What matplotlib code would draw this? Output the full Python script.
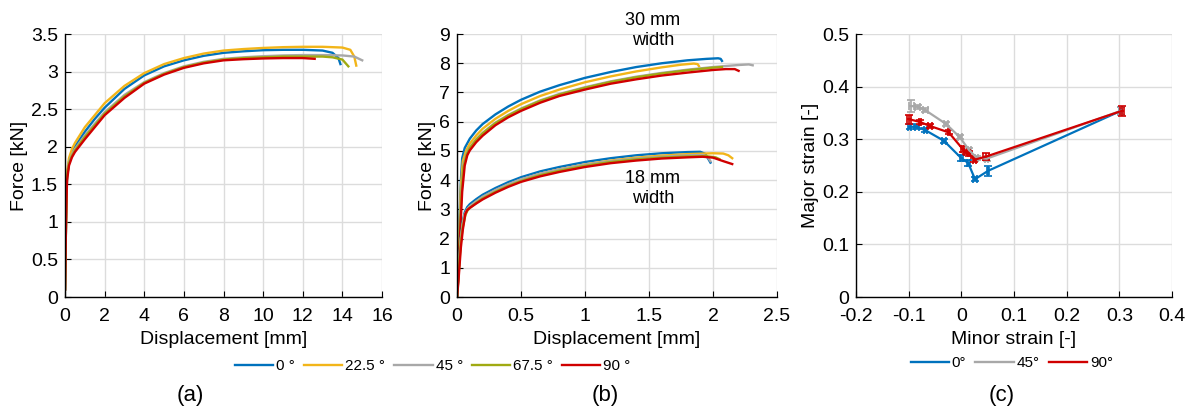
import matplotlib
matplotlib.use("Agg")
import matplotlib.pyplot as plt
from matplotlib.lines import Line2D

plt.rcParams['font.family'] = ['Liberation Sans', 'DejaVu Sans']

# ---------------- data ----------------
angles_ab = ["0 °", "22.5 °", "45 °", "67.5 °", "90 °"]
colors_ab = ["#0072BD", "#F2B519", "#A8A8A8", "#A0AA12", "#D00000"]

# (a) force-displacement
a_x0 = [0, 0.05, 0.1, 0.2, 0.35, 0.5, 1, 1.5, 2, 3, 4, 5, 6, 7, 8, 9, 10, 11, 12, 13, 13.5, 13.8, 13.9]
a_y0 = [0.1, 1.0, 1.6, 1.8, 1.92, 2.0, 2.2, 2.37, 2.52, 2.77, 2.95, 3.07, 3.15, 3.21, 3.25, 3.27, 3.285, 3.29, 3.29, 3.28, 3.25, 3.18, 3.1]
a_x225 = [0, 0.05, 0.1, 0.2, 0.35, 0.5, 1, 2, 3, 4, 5, 6, 7, 8, 9, 10, 11, 12, 13, 14, 14.4, 14.6, 14.7]
a_y225 = [0.1, 1.0, 1.65, 1.85, 1.97, 2.05, 2.26, 2.58, 2.81, 2.98, 3.1, 3.18, 3.24, 3.28, 3.3, 3.315, 3.325, 3.33, 3.33, 3.32, 3.29, 3.2, 3.08]
a_x45 = [0, 0.05, 0.1, 0.2, 0.35, 0.5, 1, 2, 3, 4, 5, 6, 7, 8, 9, 10, 11, 12, 13, 14, 14.6, 15.0]
a_y45 = [0.1, 1.0, 1.6, 1.8, 1.9, 1.97, 2.15, 2.46, 2.69, 2.86, 2.98, 3.07, 3.13, 3.17, 3.19, 3.205, 3.215, 3.22, 3.22, 3.215, 3.2, 3.15]
a_x675 = [0, 0.05, 0.1, 0.2, 0.35, 0.5, 1, 2, 3, 4, 5, 6, 7, 8, 9, 10, 11, 12, 13, 13.5, 14.0, 14.3]
a_y675 = [0.1, 1.0, 1.6, 1.78, 1.88, 1.95, 2.13, 2.44, 2.67, 2.85, 2.97, 3.06, 3.12, 3.16, 3.18, 3.19, 3.2, 3.2, 3.2, 3.19, 3.16, 3.07]
a_x90 = [0, 0.05, 0.1, 0.2, 0.35, 0.5, 1, 2, 3, 4, 5, 6, 7, 8, 9, 10, 11, 12, 12.6]
a_y90 = [0.1, 1.0, 1.55, 1.75, 1.86, 1.93, 2.1, 2.42, 2.65, 2.84, 2.96, 3.05, 3.11, 3.15, 3.165, 3.175, 3.18, 3.18, 3.17]

# (b) force-displacement, 30 mm width
b30_x0 = [0, 0.01, 0.02, 0.03, 0.04, 0.06, 0.1, 0.15, 0.2, 0.3, 0.4, 0.5, 0.65, 0.8, 1.0, 1.2, 1.4, 1.6, 1.8, 1.95, 2.04, 2.06, 2.07]
b30_y0 = [0, 1.3, 2.8, 4.0, 4.75, 5.1, 5.42, 5.7, 5.92, 6.25, 6.52, 6.75, 7.03, 7.25, 7.5, 7.7, 7.87, 8.0, 8.1, 8.15, 8.17, 8.15, 8.08]
b30_x225 = [0, 0.01, 0.02, 0.03, 0.045, 0.07, 0.1, 0.15, 0.2, 0.3, 0.4, 0.5, 0.65, 0.8, 1.0, 1.2, 1.4, 1.6, 1.75, 1.85, 1.88, 1.89]
b30_y225 = [0, 1.1, 2.5, 3.8, 4.65, 5.0, 5.25, 5.53, 5.76, 6.1, 6.37, 6.6, 6.88, 7.1, 7.35, 7.55, 7.72, 7.86, 7.95, 7.99, 7.97, 7.9]
b30_x45 = [0, 0.01, 0.02, 0.035, 0.05, 0.075, 0.1, 0.15, 0.2, 0.3, 0.4, 0.5, 0.65, 0.8, 1.0, 1.2, 1.4, 1.6, 1.8, 2.0, 2.2, 2.28, 2.31]
b30_y45 = [0, 1.0, 2.3, 3.8, 4.55, 4.92, 5.12, 5.4, 5.62, 5.97, 6.23, 6.45, 6.73, 6.95, 7.18, 7.38, 7.54, 7.67, 7.78, 7.87, 7.94, 7.96, 7.93]
b30_x675 = [0, 0.01, 0.02, 0.035, 0.05, 0.075, 0.1, 0.15, 0.2, 0.3, 0.4, 0.5, 0.65, 0.8, 1.0, 1.2, 1.4, 1.6, 1.8, 2.0, 2.07]
b30_y675 = [0, 0.9, 2.1, 3.6, 4.45, 4.88, 5.1, 5.38, 5.6, 5.95, 6.21, 6.43, 6.71, 6.93, 7.16, 7.36, 7.52, 7.65, 7.76, 7.85, 7.87]
b30_x90 = [0, 0.01, 0.02, 0.04, 0.06, 0.08, 0.1, 0.15, 0.2, 0.3, 0.4, 0.5, 0.65, 0.8, 1.0, 1.2, 1.4, 1.6, 1.8, 2.0, 2.1, 2.17, 2.2]
b30_y90 = [0, 0.8, 1.8, 3.6, 4.5, 4.85, 5.02, 5.3, 5.52, 5.88, 6.15, 6.37, 6.65, 6.88, 7.1, 7.3, 7.45, 7.58, 7.68, 7.77, 7.8, 7.8, 7.74]

# (b) force-displacement, 18 mm width
b18_x0 = [0, 0.01, 0.02, 0.03, 0.045, 0.06, 0.08, 0.1, 0.15, 0.2, 0.3, 0.4, 0.5, 0.65, 0.8, 1.0, 1.2, 1.4, 1.6, 1.8, 1.9, 1.94, 1.96, 1.98]
b18_y0 = [0, 0.8, 1.5, 2.1, 2.6, 2.9, 3.08, 3.18, 3.35, 3.5, 3.73, 3.93, 4.1, 4.3, 4.45, 4.62, 4.75, 4.85, 4.92, 4.96, 4.97, 4.9, 4.75, 4.6]
b18_x225 = [0, 0.01, 0.02, 0.03, 0.045, 0.06, 0.08, 0.1, 0.15, 0.2, 0.3, 0.4, 0.5, 0.65, 0.8, 1.0, 1.2, 1.4, 1.6, 1.8, 2.0, 2.08, 2.12, 2.15]
b18_y225 = [0, 0.7, 1.4, 2.0, 2.5, 2.82, 3.0, 3.1, 3.27, 3.42, 3.65, 3.85, 4.02, 4.22, 4.37, 4.54, 4.67, 4.77, 4.84, 4.89, 4.92, 4.91, 4.85, 4.75]
b18_x45 = [0, 0.01, 0.02, 0.03, 0.045, 0.06, 0.08, 0.1, 0.15, 0.2, 0.3, 0.4, 0.5, 0.65, 0.8, 1.0, 1.2, 1.4, 1.6, 1.8, 1.92, 1.96, 1.98]
b18_y45 = [0, 0.7, 1.4, 2.0, 2.5, 2.82, 3.0, 3.1, 3.27, 3.43, 3.66, 3.86, 4.03, 4.22, 4.37, 4.53, 4.65, 4.74, 4.8, 4.85, 4.86, 4.78, 4.65]
b18_x675 = [0, 0.01, 0.02, 0.03, 0.045, 0.065, 0.08, 0.1, 0.15, 0.2, 0.3, 0.4, 0.5, 0.65, 0.8, 1.0, 1.2, 1.4, 1.6, 1.8, 1.95, 2.02, 2.05]
b18_y675 = [0, 0.6, 1.3, 1.9, 2.4, 2.8, 2.95, 3.05, 3.22, 3.37, 3.6, 3.8, 3.97, 4.17, 4.32, 4.49, 4.62, 4.71, 4.77, 4.81, 4.82, 4.78, 4.72]
b18_x90 = [0, 0.01, 0.02, 0.03, 0.045, 0.065, 0.08, 0.1, 0.15, 0.2, 0.3, 0.4, 0.5, 0.65, 0.8, 1.0, 1.2, 1.4, 1.6, 1.8, 1.92, 2.0, 2.08, 2.15]
b18_y90 = [0, 0.5, 1.1, 1.7, 2.3, 2.85, 2.98, 3.05, 3.2, 3.34, 3.57, 3.77, 3.94, 4.13, 4.28, 4.45, 4.58, 4.67, 4.74, 4.78, 4.8, 4.77, 4.65, 4.55]

# (c) forming limit points
angles_c = ["0°", "45°", "90°"]
colors_c = ["#0072BD", "#A8A8A8", "#D00000"]
c_minor0 = [-0.098, -0.084, -0.068, -0.033, 0.0, 0.013, 0.026, 0.051, 0.303]
c_major0 = [0.324, 0.323, 0.317, 0.297, 0.264, 0.255, 0.224, 0.240, 0.354]
c_xerr0 = [0.003, 0.003, 0.003, 0.003, 0.003, 0.003, 0.004, 0.002, 0.003]
c_yerr0 = [0.004, 0.004, 0.004, 0.004, 0.006, 0.006, 0.004, 0.009, 0.008]
c_minor45 = [-0.095, -0.083, -0.068, -0.029, -0.003, 0.015, 0.029, 0.048, 0.303]
c_major45 = [0.363, 0.362, 0.355, 0.329, 0.304, 0.279, 0.265, 0.263, 0.354]
c_xerr45 = [0.005, 0.004, 0.004, 0.004, 0.004, 0.003, 0.003, 0.003, 0.003]
c_yerr45 = [0.012, 0.004, 0.004, 0.004, 0.004, 0.004, 0.004, 0.004, 0.008]
c_minor90 = [-0.099, -0.079, -0.059, -0.024, 0.003, 0.008, 0.015, 0.025, 0.047, 0.305]
c_major90 = [0.338, 0.333, 0.325, 0.313, 0.281, 0.276, 0.273, 0.261, 0.267, 0.354]
c_xerr90 = [0.004, 0.002, 0.004, 0.002, 0.003, 0.003, 0.002, 0.002, 0.005, 0.004]
c_yerr90 = [0.009, 0.004, 0.004, 0.004, 0.006, 0.004, 0.004, 0.004, 0.006, 0.010]

# ---------------- figure ----------------
fig = plt.figure(figsize=(11.89, 4.09), dpi=100)

TICK_FS = 14
LABEL_FS = 14

def style(ax):
    ax.spines['top'].set_visible(False)
    ax.spines['right'].set_visible(False)
    ax.spines['left'].set_linewidth(1.0)
    ax.spines['bottom'].set_linewidth(1.0)
    ax.grid(True, color='#DCDCDC', linewidth=1.0)
    ax.set_axisbelow(True)
    ax.tick_params(direction='in', length=4, labelsize=TICK_FS, width=0.8)
    ax.tick_params(axis='x', pad=8)
    ax.tick_params(axis='y', pad=5)

lw = 1.7

# (a)
axa = fig.add_axes([0.0547, 0.2738, 0.2666, 0.6430])
style(axa)
a_series = [(a_x0, a_y0), (a_x225, a_y225), (a_x45, a_y45), (a_x675, a_y675), (a_x90, a_y90)]
for (xs, ys), c in zip(a_series, colors_ab):
    axa.plot(xs, ys, color=c, lw=lw, solid_joinstyle='round')
axa.set_xlim(0, 16)
axa.set_ylim(0, 3.5)
axa.set_xticks(range(0, 17, 2))
axa.set_yticks([0, 0.5, 1, 1.5, 2, 2.5, 3, 3.5])
axa.set_yticklabels(['0', '0.5', '1', '1.5', '2', '2.5', '3', '3.5'])
axa.set_xlabel('Displacement [mm]', fontsize=LABEL_FS, labelpad=4)
axa.set_ylabel('Force [kN]', fontsize=LABEL_FS, labelpad=2)

# (b)
axb = fig.add_axes([0.3844, 0.2738, 0.2691, 0.6430])
style(axb)
b30 = [(b30_x0, b30_y0), (b30_x225, b30_y225), (b30_x45, b30_y45), (b30_x675, b30_y675), (b30_x90, b30_y90)]
b18 = [(b18_x0, b18_y0), (b18_x225, b18_y225), (b18_x45, b18_y45), (b18_x675, b18_y675), (b18_x90, b18_y90)]
for grp in (b30, b18):
    for (xs, ys), c in zip(grp, colors_ab):
        axb.plot(xs, ys, color=c, lw=lw, solid_joinstyle='round')
axb.set_xlim(0, 2.5)
axb.set_ylim(0, 9)
axb.set_xticks([0, 0.5, 1, 1.5, 2, 2.5])
axb.set_xticklabels(['0', '0.5', '1', '1.5', '2', '2.5'])
axb.set_yticks(range(0, 10))
axb.set_xlabel('Displacement [mm]', fontsize=LABEL_FS, labelpad=4)
axb.set_ylabel('Force [kN]', fontsize=LABEL_FS, labelpad=2)
axb.text(1.53, 9.12, '30 mm\nwidth', ha='center', va='center', fontsize=13,
         linespacing=1.2, clip_on=False)
axb.text(1.53, 3.71, '18 mm\nwidth', ha='center', va='center', fontsize=13,
         linespacing=1.2)

handles = [Line2D([], [], color=c, lw=lw) for c in colors_ab]
fig.legend(handles, angles_ab, loc='center', bbox_to_anchor=(0.364, 0.105),
           ncol=5, frameon=False, fontsize=11, handlelength=2.5,
           handletextpad=0.2, columnspacing=0.6)

# (c)
axc = fig.add_axes([0.7199, 0.2738, 0.2658, 0.6430])
style(axc)
c_series = [(c_minor0, c_major0, c_xerr0, c_yerr0),
            (c_minor45, c_major45, c_xerr45, c_yerr45),
            (c_minor90, c_major90, c_xerr90, c_yerr90)]
for (xs, ys, xe, ye), c in zip(c_series, colors_c):
    axc.errorbar(xs, ys, xerr=xe, yerr=ye, color=c, lw=1.6, elinewidth=1.2,
                 capsize=3, capthick=1.2)
axc.set_xlim(-0.2, 0.4)
axc.set_ylim(0, 0.5)
axc.set_xticks([-0.2, -0.1, 0, 0.1, 0.2, 0.3, 0.4])
axc.set_xticklabels(['-0.2', '-0.1', '0', '0.1', '0.2', '0.3', '0.4'])
axc.set_yticks([0, 0.1, 0.2, 0.3, 0.4, 0.5])
axc.set_yticklabels(['0', '0.1', '0.2', '0.3', '0.4', '0.5'])
axc.set_xlabel('Minor strain [-]', fontsize=LABEL_FS, labelpad=4)
axc.set_ylabel('Major strain [-]', fontsize=LABEL_FS, labelpad=2)

handles_c = [Line2D([], [], color=c, lw=lw) for c in colors_c]
fig.legend(handles_c, angles_c, loc='center', bbox_to_anchor=(0.851, 0.112),
           ncol=3, frameon=False, fontsize=11, handlelength=2.5,
           handletextpad=0.2, columnspacing=0.6)

# panel labels
fig.text(190 / 1189, 1 - 395 / 409, '(a)', ha='center', va='center', fontsize=16)
fig.text(605 / 1189, 1 - 395 / 409, '(b)', ha='center', va='center', fontsize=16)
fig.text(1002 / 1189, 1 - 395 / 409, '(c)', ha='center', va='center', fontsize=16)

fig.savefig('out.png', dpi=100)
